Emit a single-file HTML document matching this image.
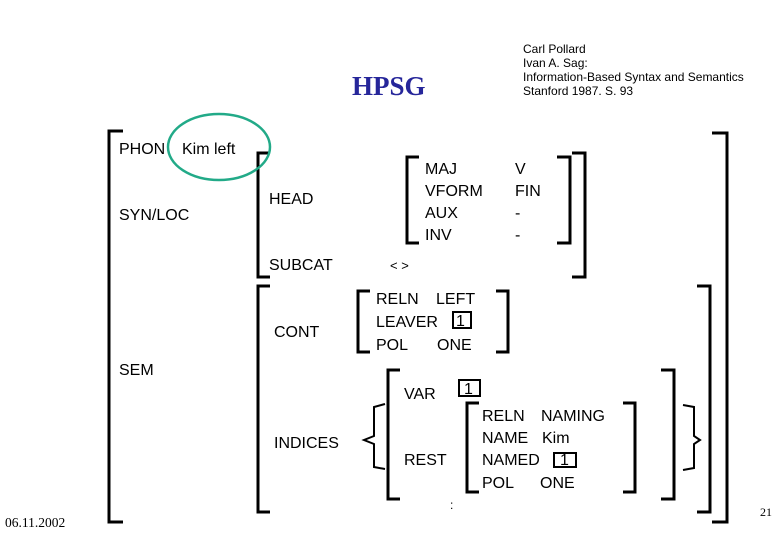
<!DOCTYPE html>
<html><head><meta charset="utf-8"><style>
html,body{margin:0;padding:0;background:#fff;}
svg{display:block;}
text{font-family:"Liberation Sans",sans-serif;font-size:16px;fill:#000;}
.s{font-size:12px;}
</style></head><body>
<svg width="780" height="540" viewBox="0 0 780 540" xmlns="http://www.w3.org/2000/svg">
<text x="352" y="95" style="font-family:'Liberation Serif',serif;font-weight:bold;font-size:27px;fill:#26269a">HPSG</text>
<text class="s" x="523" y="53">Carl Pollard</text>
<text class="s" x="523" y="67">Ivan A. Sag:</text>
<text class="s" x="523" y="81">Information-Based Syntax and Semantics</text>
<text class="s" x="523" y="95">Stanford 1987. S. 93</text>

<g fill="none" stroke="#000" stroke-width="3">
<polyline points="123,131 109,131 109,522 123,522"/>
<polyline points="712,133 727,133 727,522 712,522"/>
<polyline points="270,153 258,153 258,277 270,277"/>
<polyline points="572,153 585,153 585,277 572,277"/>
<polyline points="419,157 407,157 407,243 419,243"/>
<polyline points="557,157 570,157 570,243 557,243"/>
<polyline points="270,286 258,286 258,512 270,512"/>
<polyline points="697,286 710,286 710,512 697,512"/>
<polyline points="370,291 358,291 358,352 370,352"/>
<polyline points="496,291 508,291 508,352 496,352"/>
<polyline points="400,370 388,370 388,499 400,499"/>
<polyline points="661,370 674,370 674,499 661,499"/>
<polyline points="479,403 467,403 467,492 479,492"/>
<polyline points="623,403 635,403 635,492 623,492"/>
</g>
<g fill="none" stroke="#000" stroke-width="2">
<polyline points="385,404 374,407 374,436 364,440 374,444 374,467 385,469"/>
<polyline points="683,405 694,407 694,436 700,440 694,444 694,468 683,470"/>
<rect x="453" y="312" width="18" height="16"/>
<rect x="459" y="380" width="21" height="16"/>
<rect x="554" y="453" width="22" height="14"/>
</g>
<ellipse cx="219" cy="147" rx="51" ry="33" fill="none" stroke="#22aa88" stroke-width="2.5"/>

<text x="119" y="154">PHON</text>
<text x="182" y="154">Kim left</text>
<text x="119" y="220">SYN/LOC</text>
<text x="269" y="204">HEAD</text>
<text x="269" y="270">SUBCAT</text>
<text x="390" y="270" style="font-size:13px">&lt; &gt;</text>
<text x="425" y="174">MAJ</text><text x="515" y="174">V</text>
<text x="425" y="196">VFORM</text><text x="515" y="196">FIN</text>
<text x="425" y="218">AUX</text><text x="515" y="218">-</text>
<text x="425" y="240">INV</text><text x="515" y="240">-</text>
<text x="274" y="337">CONT</text>
<text x="376" y="304">RELN</text><text x="436" y="304">LEFT</text>
<text x="376" y="327">LEAVER</text><text x="456" y="326">1</text>
<text x="376" y="350">POL</text><text x="437" y="350">ONE</text>
<text x="119" y="375">SEM</text>
<text x="274" y="448">INDICES</text>
<text x="404" y="399">VAR</text><text x="464" y="394">1</text>
<text x="404" y="465">REST</text>
<text x="482" y="421">RELN</text><text x="541" y="421">NAMING</text>
<text x="482" y="443">NAME</text><text x="542" y="443">Kim</text>
<text x="482" y="465">NAMED</text><text x="560" y="465">1</text>
<text x="482" y="488">POL</text><text x="540" y="488">ONE</text>
<text x="450" y="509" style="font-size:12px">:</text>
<text x="5" y="527" style="font-family:'Liberation Serif',serif;font-size:13.5px">06.11.2002</text>
<text x="760" y="516" style="font-family:'Liberation Serif',serif;font-size:12px">21</text>
</svg>
</body></html>
